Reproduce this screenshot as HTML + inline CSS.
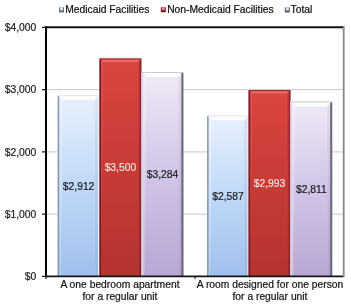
<!DOCTYPE html>
<html><head><meta charset="utf-8"><style>
html,body{margin:0;padding:0;background:#fff;width:351px;height:307px;overflow:hidden}
svg{display:block;will-change:transform;font-family:"Liberation Sans",sans-serif;font-size:10.3px}
</style></head><body>
<svg width="351" height="307" viewBox="0 0 351 307">
<defs><linearGradient id="gb" x1="0" y1="0" x2="0" y2="1"><stop offset="0" stop-color="#e8f1fb"/><stop offset="0.5" stop-color="#c0d8f8"/><stop offset="1" stop-color="#a0c0ec"/></linearGradient><linearGradient id="gr" x1="0" y1="0" x2="0" y2="1"><stop offset="0" stop-color="#dc4541"/><stop offset="0.5" stop-color="#c83b37"/><stop offset="1" stop-color="#b43430"/></linearGradient><linearGradient id="gl" x1="0" y1="0" x2="0" y2="1"><stop offset="0" stop-color="#efeaf6"/><stop offset="0.45" stop-color="#d4c8e8"/><stop offset="1" stop-color="#b8a6d4"/></linearGradient></defs>
<line x1="47" y1="214.15" x2="343" y2="214.15" stroke="#c8c8c8" stroke-width="1"/>
<line x1="47" y1="151.90" x2="343" y2="151.90" stroke="#c8c8c8" stroke-width="1"/>
<line x1="47" y1="89.65" x2="343" y2="89.65" stroke="#c8c8c8" stroke-width="1"/>
<rect x="57.7" y="95.13" width="41.8" height="181.27" fill="url(#gb)"/>
<polygon points="57.7,95.13 99.5,95.13 94.5,100.13 62.7,100.13" fill="#ffffff" fill-opacity="0.85"/>
<polygon points="57.7,95.13 62.7,100.13 60.7,276.4 57.7,276.4" fill="#ffffff" fill-opacity="0.25"/>
<polygon points="99.5,95.13 99.5,276.4 95.5,276.4 94.5,100.13" fill="#301030" fill-opacity="0.05"/>
<line x1="57.7" y1="95.63" x2="99.5" y2="95.63" stroke="#dfe4ea" stroke-width="1"/>
<line x1="58.45" y1="96.13" x2="58.45" y2="276.4" stroke="#8494ac" stroke-width="1.5"/>
<line x1="98.75" y1="96.13" x2="98.75" y2="276.4" stroke="#eef0fa" stroke-width="1.5"/>
<text x="78.6" y="189.56" text-anchor="middle" fill="#1a1a1a" stroke="#1a1a1a" stroke-width="0.2">$2,912</text>
<rect x="99.5" y="58.52" width="41.8" height="217.88" fill="url(#gr)"/>
<polygon points="99.5,58.52 141.3,58.52 137.8,62.02 103.0,62.02" fill="#f58080" fill-opacity="0.6"/>
<polygon points="99.5,58.52 103.0,62.02 101.0,276.4 99.5,276.4" fill="#f58080" fill-opacity="0.25"/>
<polygon points="141.3,58.52 141.3,276.4 138.8,276.4 137.8,62.02" fill="#301030" fill-opacity="0.08"/>
<line x1="99.5" y1="59.02" x2="141.3" y2="59.02" stroke="#92262a" stroke-width="1"/>
<line x1="100.30" y1="59.52" x2="100.30" y2="276.4" stroke="#6e1e24" stroke-width="1.6"/>
<line x1="140.50" y1="59.52" x2="140.50" y2="276.4" stroke="#7c2630" stroke-width="1.6"/>
<text x="120.4" y="171.26" text-anchor="middle" fill="#fae4de" stroke="#fae4de" stroke-width="0.14">$3,500</text>
<rect x="141.6" y="71.97" width="41.8" height="204.43" fill="url(#gl)"/>
<polygon points="141.6,71.97 183.39999999999998,71.97 178.39999999999998,76.97 146.6,76.97" fill="#ffffff" fill-opacity="0.85"/>
<polygon points="141.6,71.97 146.6,76.97 144.6,276.4 141.6,276.4" fill="#ffffff" fill-opacity="0.25"/>
<polygon points="183.39999999999998,71.97 183.39999999999998,276.4 179.39999999999998,276.4 178.39999999999998,76.97" fill="#301030" fill-opacity="0.05"/>
<line x1="141.6" y1="72.47" x2="183.39999999999998" y2="72.47" stroke="#ccc8d4" stroke-width="1"/>
<line x1="142.35" y1="72.97" x2="142.35" y2="276.4" stroke="#decfe2" stroke-width="1.5"/>
<line x1="182.40" y1="72.97" x2="182.40" y2="276.4" stroke="#6a6878" stroke-width="2.0"/>
<text x="162.5" y="177.99" text-anchor="middle" fill="#1a1a1a" stroke="#1a1a1a" stroke-width="0.2">$3,284</text>
<rect x="207.1" y="115.36" width="41.8" height="161.04" fill="url(#gb)"/>
<polygon points="207.1,115.36 248.89999999999998,115.36 243.89999999999998,120.36 212.1,120.36" fill="#ffffff" fill-opacity="0.85"/>
<polygon points="207.1,115.36 212.1,120.36 210.1,276.4 207.1,276.4" fill="#ffffff" fill-opacity="0.25"/>
<polygon points="248.89999999999998,115.36 248.89999999999998,276.4 244.89999999999998,276.4 243.89999999999998,120.36" fill="#301030" fill-opacity="0.05"/>
<line x1="207.1" y1="115.86" x2="248.89999999999998" y2="115.86" stroke="#dfe4ea" stroke-width="1"/>
<line x1="207.85" y1="116.36" x2="207.85" y2="276.4" stroke="#8494ac" stroke-width="1.5"/>
<line x1="248.15" y1="116.36" x2="248.15" y2="276.4" stroke="#eef0fa" stroke-width="1.5"/>
<text x="228.0" y="199.68" text-anchor="middle" fill="#1a1a1a" stroke="#1a1a1a" stroke-width="0.2">$2,587</text>
<rect x="248.6" y="90.09" width="41.8" height="186.31" fill="url(#gr)"/>
<polygon points="248.6,90.09 290.4,90.09 286.9,93.59 252.1,93.59" fill="#f58080" fill-opacity="0.6"/>
<polygon points="248.6,90.09 252.1,93.59 250.1,276.4 248.6,276.4" fill="#f58080" fill-opacity="0.25"/>
<polygon points="290.4,90.09 290.4,276.4 287.9,276.4 286.9,93.59" fill="#301030" fill-opacity="0.08"/>
<line x1="248.6" y1="90.59" x2="290.4" y2="90.59" stroke="#92262a" stroke-width="1"/>
<line x1="249.40" y1="91.09" x2="249.40" y2="276.4" stroke="#6e1e24" stroke-width="1.6"/>
<line x1="289.60" y1="91.09" x2="289.60" y2="276.4" stroke="#7c2630" stroke-width="1.6"/>
<text x="269.5" y="187.04" text-anchor="middle" fill="#fae4de" stroke="#fae4de" stroke-width="0.14">$2,993</text>
<rect x="290.4" y="101.42" width="41.8" height="174.98" fill="url(#gl)"/>
<polygon points="290.4,101.42 332.2,101.42 327.2,106.42 295.4,106.42" fill="#ffffff" fill-opacity="0.85"/>
<polygon points="290.4,101.42 295.4,106.42 293.4,276.4 290.4,276.4" fill="#ffffff" fill-opacity="0.25"/>
<polygon points="332.2,101.42 332.2,276.4 328.2,276.4 327.2,106.42" fill="#301030" fill-opacity="0.05"/>
<line x1="290.4" y1="101.92" x2="332.2" y2="101.92" stroke="#ccc8d4" stroke-width="1"/>
<line x1="291.15" y1="102.42" x2="291.15" y2="276.4" stroke="#decfe2" stroke-width="1.5"/>
<line x1="331.20" y1="102.42" x2="331.20" y2="276.4" stroke="#6a6878" stroke-width="2.0"/>
<text x="311.29999999999995" y="192.71" text-anchor="middle" fill="#1a1a1a" stroke="#1a1a1a" stroke-width="0.2">$2,811</text>
<path d="M46,26 V277" stroke="#000" stroke-width="2" fill="none"/>
<path d="M45,27.3 H344" stroke="#141414" stroke-width="2" fill="none"/>
<path d="M45,276.4 H344" stroke="#141418" stroke-width="1.8" fill="none"/>
<path d="M343.7,26 V277" stroke="#888" stroke-width="1.8" fill="none"/>
<line x1="42" y1="276.40" x2="46" y2="276.40" stroke="#202020" stroke-width="1.3"/>
<text x="36.2" y="280.20" text-anchor="end" fill="#1a1a1a" stroke="#1a1a1a" stroke-width="0.2">$0</text>
<line x1="42" y1="214.15" x2="46" y2="214.15" stroke="#202020" stroke-width="1.3"/>
<text x="36.2" y="217.95" text-anchor="end" fill="#1a1a1a" stroke="#1a1a1a" stroke-width="0.2">$1,000</text>
<line x1="42" y1="151.90" x2="46" y2="151.90" stroke="#202020" stroke-width="1.3"/>
<text x="36.2" y="155.70" text-anchor="end" fill="#1a1a1a" stroke="#1a1a1a" stroke-width="0.2">$2,000</text>
<line x1="42" y1="89.65" x2="46" y2="89.65" stroke="#202020" stroke-width="1.3"/>
<text x="36.2" y="93.45" text-anchor="end" fill="#1a1a1a" stroke="#1a1a1a" stroke-width="0.2">$3,000</text>
<line x1="42" y1="27.40" x2="46" y2="27.40" stroke="#202020" stroke-width="1.3"/>
<text x="36.2" y="31.20" text-anchor="end" fill="#1a1a1a" stroke="#1a1a1a" stroke-width="0.2">$4,000</text>
<line x1="46" y1="276" x2="46" y2="279" stroke="#000" stroke-width="1"/>
<line x1="195" y1="276" x2="195" y2="279" stroke="#000" stroke-width="1"/>
<text x="120" y="288.2" text-anchor="middle" fill="#111" stroke="#111" stroke-width="0.2">A one bedroom apartment</text>
<text x="120" y="299.7" text-anchor="middle" fill="#111" stroke="#111" stroke-width="0.2">for a regular unit</text>
<text x="270" y="288.2" text-anchor="middle" fill="#111" stroke="#111" stroke-width="0.2">A room designed for one person</text>
<text x="270" y="299.7" text-anchor="middle" fill="#111" stroke="#111" stroke-width="0.2">for a regular unit</text>
<rect x="59" y="7.4" width="5" height="5" fill="#5c6878"/><rect x="60" y="7.4" width="3" height="3" fill="#dde6f2"/>
<text x="65.2" y="13.4" text-anchor="start" fill="#111" stroke="#111" stroke-width="0.22">Medicaid Facilities</text>
<rect x="160.8" y="7.2" width="5" height="5" fill="#701828"/><rect x="161.8" y="7.2" width="3" height="3" fill="#f08890"/>
<text x="167.2" y="13.4" text-anchor="start" fill="#111" stroke="#111" stroke-width="0.22">Non-Medicaid Facilities</text>
<rect x="284.8" y="7.5" width="5" height="5" fill="#5c586c"/><rect x="285.8" y="7.5" width="3" height="3" fill="#e4e0ee"/>
<text x="290.6" y="13.4" text-anchor="start" fill="#111" stroke="#111" stroke-width="0.22">Total</text>
</svg>
</body></html>
